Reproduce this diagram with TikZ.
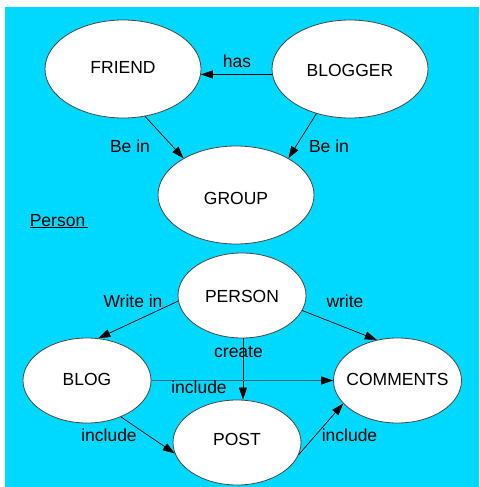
\documentclass[tikz,border=0pt]{standalone}
\usepackage{fontspec}
\setmainfont{Liberation Sans}
\usetikzlibrary{shapes.geometric,arrows.meta}
\definecolor{bgcyan}{RGB}{0,217,255}
\definecolor{ellborder}{RGB}{70,70,70}
\definecolor{tealline}{RGB}{25,105,125}
\begin{document}
\begin{tikzpicture}[x=1pt,y=-1pt,
  every node/.style={font=\fontsize{17.5}{20}\selectfont},
  ell/.style={ellipse, draw=ellborder, line width=0.8pt, fill=white, inner sep=0pt},
  bigell/.style={ell, minimum width=156pt, minimum height=98pt},
  smallell/.style={ell, minimum width=128pt, minimum height=85pt},
  lbl/.style={anchor=base, inner sep=0pt},
  conn/.style={draw=black, line width=0.7pt, -{Triangle[length=12pt,width=8pt,color=black]}}
]
\useasboundingbox (0,0) rectangle (479,487);
\fill[white] (0,0) rectangle (479,487);
\fill[bgcyan] (5,7) rectangle (479,487);

% ellipses
\node[bigell, text height=10pt, text depth=0pt] (friend) at (123,69) {\makebox[0pt]{FRIEND}};
\node[bigell, text height=14pt, text depth=0pt] (blogger) at (350,69) {\makebox[0pt]{BLOGGER}};
\node[bigell, text height=18pt, text depth=0pt] (group) at (236,195) {\makebox[0pt]{GROUP}};
\node[smallell, text height=14pt, text depth=0pt] (person) at (242,295.5) {\makebox[0pt]{PERSON}};
\node[smallell, text height=10pt, text depth=0pt] (blog) at (87,380.5) {\makebox[0pt]{BLOG}};
\node[smallell, text height=10pt, text depth=0pt] (comments) at (397.5,380.5) {\makebox[0pt]{COMMENTS}};
\node[smallell, text height=5pt, text depth=0pt] (post) at (237,442.5) {\makebox[0pt]{POST}};

% connectors
\draw[conn] (blogger.184) -- (friend.-4);
\draw[conn] (friend.-65) -- (group.145);
\draw[conn] (blogger.233) -- (group.35);
\draw[conn] (person.185) -- (blog.75);
\draw[conn] (person.-14) -- (comments.117);
\draw[conn] ([xshift=1pt]person.south) -- ([xshift=6pt]post.north);
\draw[conn, draw=tealline, line width=1.2pt] (blog.east) -- (comments.west);
\draw[conn] (blog.-47) -- (post.190);
\draw[conn] (post.-11) -- (comments.203);

% labels
\node[lbl] (lhas) at (237,67) {has};
\node[lbl] (lbein1) at (130,152) {Be in};
\node[lbl] (lbein2) at (329,152) {Be in};
\node[lbl] (lperson) at (59,226) {\underline{Person\,}};
\node[lbl] (lwritein) at (133,307) {Write in};
\node[lbl] (lwrite) at (345,307) {write};
\node[lbl] (lcreate) at (238.5,357) {create};
\node[lbl] (linc1) at (199,393) {include};
\node[lbl] (linc2) at (109,441) {include};
\node[lbl] (linc3) at (349.5,441) {include};
\end{tikzpicture}
\end{document}
